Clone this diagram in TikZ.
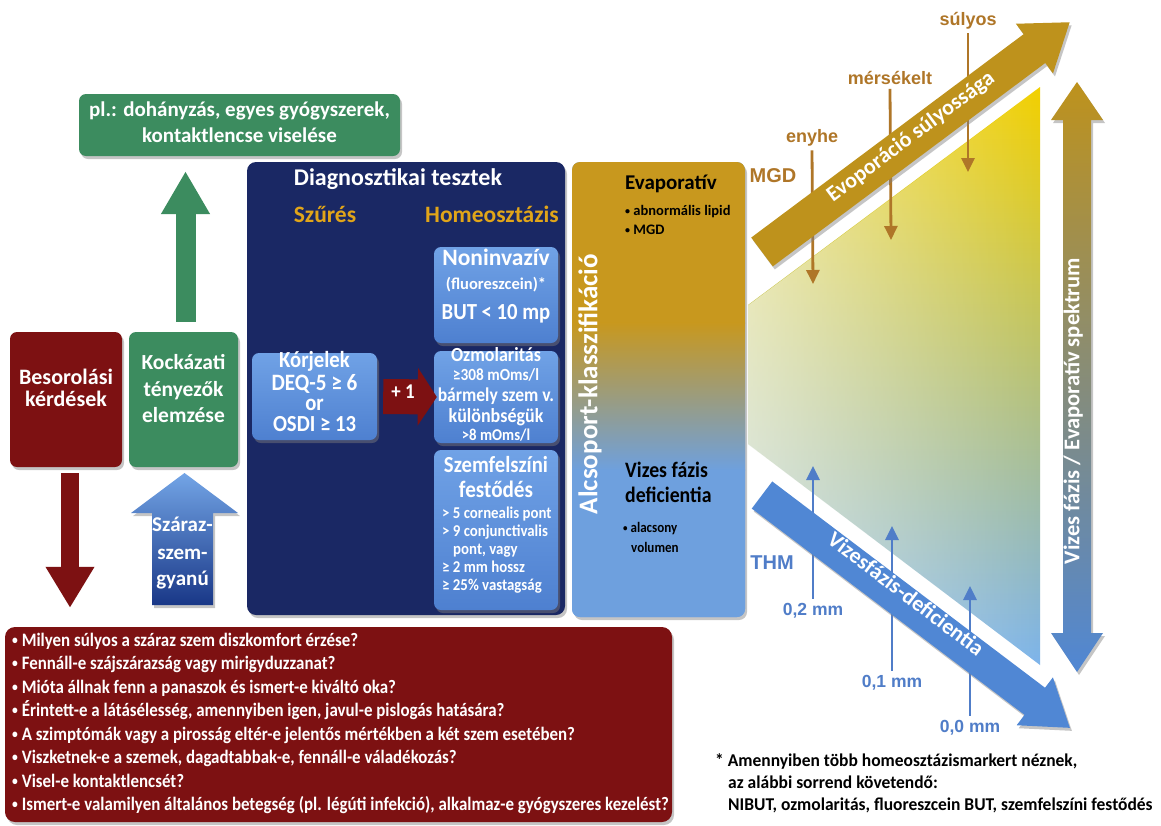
\documentclass[tikz,border=0pt]{standalone}
\usepackage{fontspec}
\setmainfont{Carlito}
\newfontfamily\full{Carlito}
\newfontfamily\semi{Carlito}[FakeStretch=0.9]
\newfontfamily\qf{Carlito}[FakeStretch=0.89]
\newfontfamily\ff{Carlito}[FakeStretch=0.97]
\newfontfamily\arial{Liberation Sans}
\usetikzlibrary{shadows,fadings,arrows.meta,calc}
\newcommand\myfs[2]{\fontsize{#1}{#2}\selectfont}
\newcommand\sbul[1]{{\myfs{#1}{#1}\raisebox{0.12em}{•}}}
\definecolor{dgreen}{RGB}{60,140,95}
\definecolor{dred}{RGB}{125,17,18}
\definecolor{navy}{RGB}{26,40,100}
\definecolor{boxtop}{RGB}{112,162,230}
\definecolor{boxbot}{RGB}{78,128,208}
\definecolor{gtext}{RGB}{225,165,25}
\definecolor{cgold}{RGB}{200,152,30}
\definecolor{cblue}{RGB}{110,160,222}
\definecolor{agold}{RGB}{190,146,28}
\definecolor{ablue}{RGB}{80,135,212}
\definecolor{amid}{RGB}{150,150,130}
\definecolor{lbrown}{RGB}{175,118,40}
\definecolor{tblue}{RGB}{80,125,200}
\definecolor{tyellow}{RGB}{242,208,0}
\definecolor{tgreen}{RGB}{165,188,135}
\definecolor{tbluetri}{RGB}{125,180,235}
\definecolor{sztop}{RGB}{115,165,230}
\definecolor{szbot}{RGB}{25,55,135}
\tikzfading[name=whiteleft, left color=transparent!40, right color=transparent!100]
\begin{document}
\begin{tikzpicture}[x=1pt,y=-1pt,
  shd/.style={drop shadow={opacity=0.45,shadow xshift=2pt,shadow yshift=-3pt}},
  rbox/.style={rounded corners=7pt, inner sep=0pt, shd},
  bluebox/.style={rbox, top color=boxtop, bottom color=boxbot},
  wt/.style={text=white, inner sep=0pt, anchor=mid, font=\full\bfseries\myfs{#1}{#1}},
  ws/.style={text=white, inner sep=0pt, anchor=mid, font=\semi\bfseries\myfs{#1}{#1}},
  wsl/.style={text=white, inner sep=0pt, anchor=mid west, font=\semi\bfseries\myfs{#1}{#1}},
  gt/.style={text=gtext, inner sep=0pt, anchor=mid, font=\full\bfseries\myfs{#1}{#1}},
  bt/.style={text=black, inner sep=0pt, anchor=mid west, font=\full\bfseries\myfs{#1}{#1}},
  bs/.style={text=black, inner sep=0pt, anchor=mid west, font=\semi\bfseries\myfs{#1}{#1}},
  ft/.style={text=black, inner sep=0pt, anchor=mid west, font=\ff\bfseries\myfs{#1}{#1}},
  qt/.style={text=white, inner sep=0pt, anchor=mid west, font=\qf\bfseries\myfs{#1}{#1}},
  lg/.style={text=lbrown, inner sep=0pt, anchor=mid, font=\arial\bfseries\myfs{#1}{#1}},
  lb/.style={text=tblue, inner sep=0pt, anchor=mid, font=\arial\bfseries\myfs{#1}{#1}},
  garr/.style={lbrown, line width=2.8pt, -{Triangle[length=14pt,width=13pt]}},
  barr/.style={tblue, line width=2.8pt, -{Triangle[length=14pt,width=13pt]}}
]
\useasboundingbox (0,0) rectangle (1161,825);
\fill[white] (0,0) rectangle (1161,825);

% ---------- top green box and arrow
\node[rbox, fill=dgreen, minimum width=321, minimum height=62] (plbox) at (239.5,125) {};
\node[wt=21] (pl1) at (239.5,114) {pl.: dohányzás, egyes gyógyszerek,};
\node[wt=21] (pl2) at (239.5,140) {kontaktlencse viselése};

% ---------- left boxes
\node[rbox, fill=dred, minimum width=112, minimum height=135] (besor) at (66,399.5) {};
\node[wt=22] (besor1) at (66,382) {Besorolási};
\node[wt=22] (besor2) at (66,404) {kérdések};
\node[rbox, fill=dgreen, minimum width=109, minimum height=135] (kock) at (183.5,399.5) {};
\node[wt=21.5] (kock1) at (183.5,367) {Kockázati};
\node[wt=21.5] (kock2) at (183.5,394) {tényezők};
\node[wt=21.5] (kock3) at (183.5,420) {elemzése};

\draw[dgreen, line width=20pt, -{Triangle[length=43pt,width=46pt]}]
  ($(kock.north)+(2,-10)$) -- ($(kock.north |- plbox.south)+(2,15)$);

% bottom question box
\node[rbox, fill=dred, minimum width=667, minimum height=195, rounded corners=10pt] (qbox) at (338.5,724.5) {};
\node[qt=19] (q1) at (12,644) {\sbul{13} Milyen súlyos a száraz szem diszkomfort érzése?};
\node[qt=19] (q2) at (12,667) {\sbul{13} Fennáll-e szájszárazság vagy mirigyduzzanat?};
\node[qt=19] (q3) at (12,691) {\sbul{13} Mióta állnak fenn a panaszok és ismert-e kiváltó oka?};
\node[qt=19] (q4) at (12,714) {\sbul{13} Érintett-e a látásélesség, amennyiben igen, javul-e pislogás hatására?};
\node[qt=19] (q5) at (12,738) {\sbul{13} A szimptómák vagy a pirosság eltér-e jelentős mértékben a két szem esetében?};
\node[qt=19] (q6) at (12,761) {\sbul{13} Viszketnek-e a szemek, dagadtabbak-e, fennáll-e váladékozás?};
\node[qt=19] (q7) at (12,785) {\sbul{13} Visel-e kontaktlencsét?};
\node[qt=19] (q8) at (12,808) {\sbul{13} Ismert-e valamilyen általános betegség (pl. légúti infekció), alkalmaz-e gyógyszeres kezelést?};

\draw[dred, line width=18pt, -{Triangle[length=41pt,width=46pt]}]
  ($(besor.south)+(4,6)$) -- ($(besor.south |- qbox.north)+(4,-19)$);

% Szaraz-szem-gyanu arrow
\shade[top color=sztop, bottom color=szbot, shd]
  (131,513) -- (184.5,473) -- (238,513) -- (213,513) -- (213,605) -- (152,605) -- (152,513) -- cycle;
\node[wt=21] (sz1) at (182.5,529) {Száraz-};
\node[wt=21] (sz2) at (182.5,557) {szem-};
\node[wt=21] (sz3) at (182.5,583) {gyanú};

% ---------- diagnostic box
\node[rbox, fill=navy, minimum width=318, minimum height=453, rounded corners=9pt] (diag) at (406,388.5) {};
\node[wt=24] (diagt) at (398,183) {Diagnosztikai tesztek};
\node[gt=23.5] (szur) at (325,220) {Szűrés};
\node[gt=23.5] (homeo) at (492,220) {Homeosztázis};

\node[bluebox, minimum width=124, minimum height=96] (nonin) at (496,295) {};
\node[wt=23.5] (nonin1) at (496,263) {Noninvazív};
\node[wt=16.5] (nonin2) at (496,287) {(fluoreszcein)*};
\node[ws=23] (nonin3) at (496,317) {BUT < 10 mp};

\node[bluebox, minimum width=124, minimum height=92] (ozm) at (496,397) {};
\node[ws=20] (ozm1) at (496,359) {Ozmolaritás};
\node[ws=17] (ozm2) at (496,378) {≥308 mOms/l};
\node[ws=19.5] (ozm3) at (496,399) {bármely szem v.};
\node[ws=20] (ozm4) at (496,420) {különbségük};
\node[ws=16.5] (ozm5) at (496,438) {>8 mOms/l};

\node[bluebox, minimum width=124, minimum height=160] (szf) at (496,530) {};
\node[ws=23] (szf1) at (496,470) {Szemfelszíni};
\node[ws=23.5] (szf2) at (496,495) {festődés};
\node[wsl=16.5] (szf3) at (442,516) {> 5 cornealis pont};
\node[wsl=16.5] (szf4) at (442,534) {> 9 conjunctivalis};
\node[wsl=16.5] (szf5) at (453,552) {pont, vagy};
\node[wsl=16.5] (szf6) at (442,570) {≥ 2 mm hossz};
\node[wsl=16.5] (szf7) at (442,588) {≥ 25\% vastagság};

\node[bluebox, minimum width=125, minimum height=87] (korj) at (314.5,396.5) {};
\node[ws=23] (korj1) at (314.5,365) {Kórjelek};
\node[ws=23.5] (korj2) at (314.5,388) {DEQ-5 ≥ 6};
\node[ws=23] (korj3) at (314.5,408) {or};
\node[ws=23] (korj4) at (314.5,429) {OSDI ≥ 13};

\draw[dred, line width=35pt, -{Triangle[length=19pt,width=57pt]}]
  ($(korj.east)+(6,0)$) -- ($(ozm.west)+(3,0)$);
\node[ws=21] (plus) at (403,396) {+ 1};

% ---------- subgroup column
\node[rbox, fill=cblue, rounded corners=8pt, minimum width=173, minimum height=455,
  path picture={
    \fill[cgold] (-100,-240) rectangle (100,-66);
    \shade[top color=cgold, bottom color=cblue] (-100,-67) rectangle (100,81);
    \fill[cblue] (-100,80) rectangle (100,240);
  }] (alcs) at (658.5,389.5) {};
\node[wt=27, rotate=90] (alcst) at (595,384) {Alcsoport-klasszifikáció};
\node[bt=21] (evap) at (625,187) {Evaporatív};
\node[bt=14.5] (evap1) at (625,213) {\sbul{10} abnormális lipid};
\node[bt=14.5] (evap2) at (625,232) {\sbul{10} MGD};
\node[bs=22] (viz1) at (625,475) {Vizes fázis};
\node[bs=22] (viz2) at (625,500) {deficientia};
\node[bs=14.5] (viz3) at (623,530) {\sbul{10} alacsony};
\node[bs=14.5] (viz4) at (631,550) {volumen};

% ---------- triangle
\shade[top color=tyellow, middle color=tgreen, bottom color=tbluetri]
  (748,305) -- (1040,87) -- (1040,665) -- (748,444) -- cycle;
\fill[white, path fading=whiteleft]
  (748,305) -- (1040,87) -- (1040,665) -- (748,444) -- cycle;

% small gold arrows
\node[lg=18] (suly) at (968,23) {súlyos};
\node[lg=18] (mers) at (890,82) {mérsékelt};
\node[lg=18] (enyh) at (812,140) {enyhe};
\node[lg=20] (mgd) at (773,180) {MGD};
\coordinate (sulyE) at (968,172);
\coordinate (mersE) at (891,240);
\coordinate (enyhE) at (813,284);
\draw[garr] ([yshift=-4pt]suly.south) -- (sulyE);
\draw[garr] ([yshift=-4pt]mers.south) -- (mersE);
\draw[garr] ([yshift=-4pt]enyh.south) -- (enyhE);

% small blue arrows
\node[lb=20] (thm) at (772,567) {THM};
\node[lb=17.5] (m02) at (813,613) {0,2 mm};
\node[lb=17.5] (m01) at (892,685) {0,1 mm};
\node[lb=17.5] (m00) at (970,730) {0,0 mm};
\coordinate (m02E) at (813,466);
\coordinate (m01E) at (892,526);
\coordinate (m00E) at (970,586);
\draw[barr] ([yshift=4pt]m02.north) -- (m02E);
\draw[barr] ([yshift=4pt]m01.north) -- (m01E);
\draw[barr] ([yshift=4pt]m00.north) -- (m00E);

% big gold arrow
\begin{scope}[shift={(762,252)}, rotate=36.75]
\fill[agold, shd] (0,-18) -- (340,-18) -- (340,-31) -- (384,0) -- (340,31) -- (340,18) -- (0,18) -- cycle;
\end{scope}
\node[wt=22, rotate=36.75] (evt) at (913,140) {Evoporáció súlyossága};

% big blue arrow
\begin{scope}[shift={(762,495)}, rotate=-37.1]
\fill[ablue, shd] (0,-17) -- (342,-17) -- (342,-30) -- (386,0) -- (342,30) -- (342,17) -- (0,17) -- cycle;
\end{scope}
\node[wt=22, rotate=-37.1] (vzt) at (903,598) {Vizesfázis-deficientia};

% vertical double arrow
\shade[top color=agold, middle color=amid, bottom color=ablue, shd]
  (1077,82) -- (1103,120) -- (1091,120) -- (1091,633) -- (1103,633) -- (1077,672)
  -- (1051,633) -- (1063,633) -- (1063,120) -- (1051,120) -- cycle;
\node[wt=22.5, rotate=90] (spek) at (1077,411) {Vizes fázis / Evaporatív spektrum};

% footnote
\node[ft=18] (fn1) at (715,764) {* Amennyiben több homeosztázismarkert néznek,};
\node[ft=18] (fn2) at (728,786) {az alábbi sorrend követendő:};
\node[ft=18] (fn3) at (728,808) {NIBUT, ozmolaritás, fluoreszcein BUT, szemfelszíni festődés};
\end{tikzpicture}
\end{document}
